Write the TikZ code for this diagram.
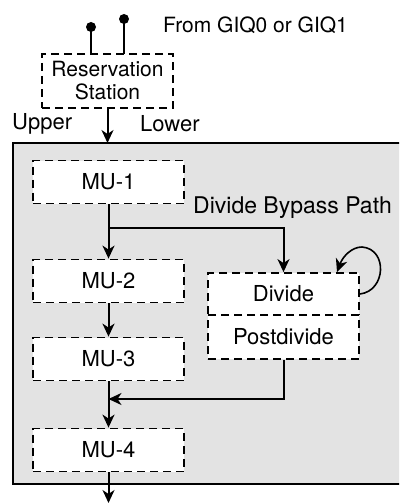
\documentclass[tikz,border=0pt]{standalone}
\usepackage{fontspec}
\setmainfont{TeX Gyre Heros}
\usetikzlibrary{arrows.meta}
\tikzset{
  unit/.style={draw, dashed, dash pattern=on 8pt off 5pt, fill=white,
    line width=1.8pt, minimum width=151pt, minimum height=43pt, inner sep=0pt},
  flow/.style={line width=2pt, -{Stealth[length=13pt,width=12pt,inset=4pt]}},
  wire/.style={line width=2pt}
}
\begin{document}
\begin{tikzpicture}[x=1pt, y=-1pt, font=\fontsize{22}{26}\selectfont]
\useasboundingbox (0,0) rectangle (399,503);
% outer block
\begin{scope}
\clip (0,0) rectangle (399,503);
\draw[fill=black!11, line width=2pt] (13,143) rectangle (405,484);
\end{scope}

% reservation station and its inputs
\node[unit, minimum width=131pt, minimum height=54pt, align=center,
  font=\fontsize{21}{23}\selectfont] (rs) at (107.5,81) {Reservation\\Station};
\fill (91,27) circle (5pt) coordinate (in0);
\fill (124,19) circle (5pt) coordinate (in1);
\draw[wire] (in0) -- (91,54);
\draw[wire] (in1) -- (124,54);
\node[anchor=west, inner sep=0pt, font=\fontsize{21}{24}\selectfont] (from) at (163,25) {From GIQ0 or GIQ1};
\node[anchor=west, inner sep=0pt] (upper) at (12,124) {Upper};
\node[anchor=west, inner sep=0pt] (lower) at (140,124) {Lower};
\coordinate (top) at (107.5,143);
\draw[flow] (rs.south) -- (top);

% multiply units
\node[unit] (mu1) at (108.5,182) {MU-1};
\node[unit] (mu2) at (108.5,281) {MU-2};
\node[unit] (mu3) at (108.5,359) {MU-3};
\node[unit] (mu4) at (108.5,450) {MU-4};

% divider
\node[unit, minimum height=42pt] (div) at (283.5,294) {Divide};
\node[unit, minimum height=44pt] (post) at (283.5,337) {Postdivide};

% connections
\draw[flow] (mu1) -- (mu2);
\draw[flow] (108.5,228) -| (div.north);
\node[anchor=west, inner sep=0pt, font=\fontsize{23}{26}\selectfont] (bypass) at (193,208) {Divide Bypass Path};
\draw[flow] (mu2) -- (mu3);
\draw[flow] (mu3) -- (mu4);
\draw[flow] (post.south) |- (108.5,399);
\draw[line width=1.6pt, -{Stealth[length=13pt,width=12pt,inset=4pt]}]
  (div.east) .. controls (386,291) and (388,249) .. (362,247)
  .. controls (352,247) and (343,256) .. (337,272);
\coordinate (out) at (108.5,503);
\draw[flow] (mu4) -- (out);
\end{tikzpicture}
\end{document}
